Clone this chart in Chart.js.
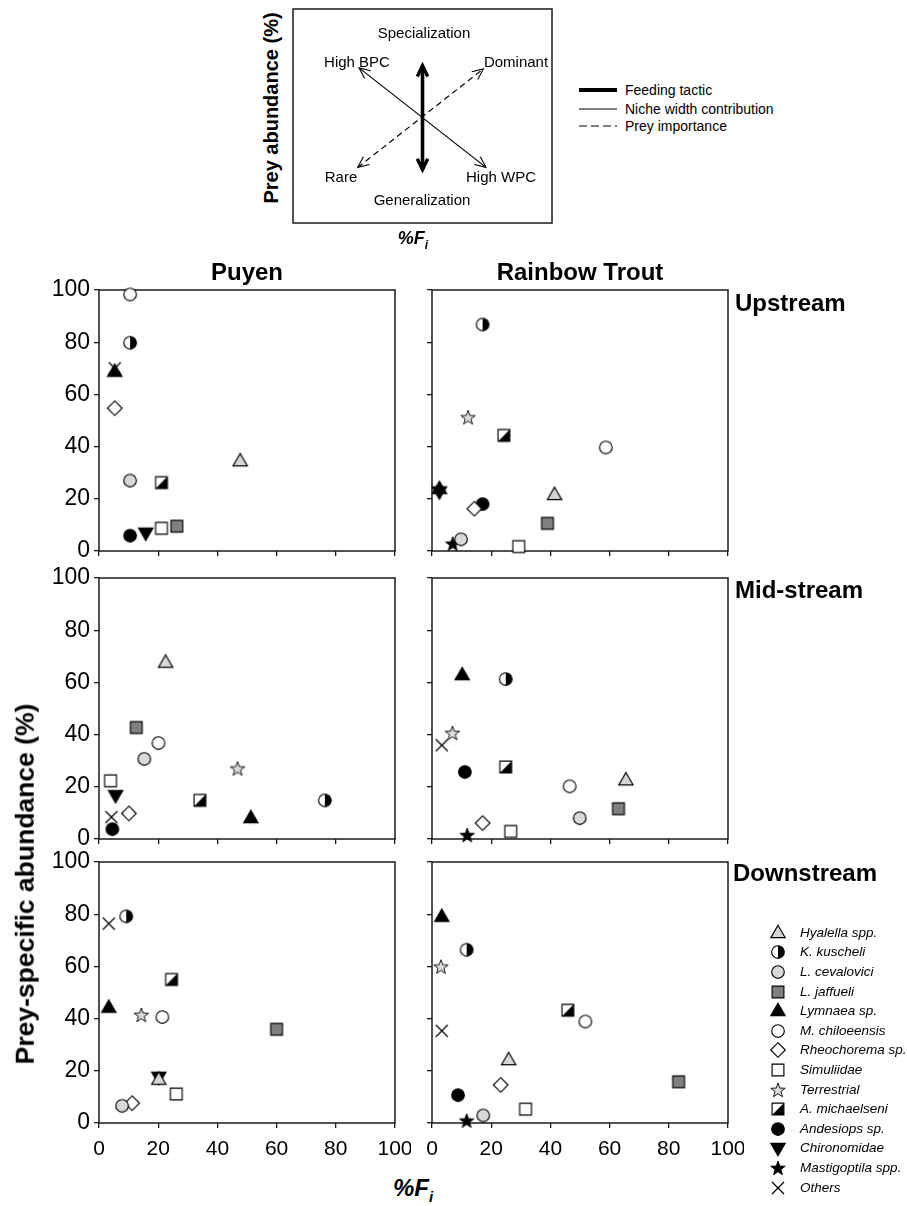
<!DOCTYPE html>
<html><head><meta charset="utf-8">
<script src="https://cdn.jsdelivr.net/npm/chart.js@4.4.1/dist/chart.umd.min.js"></script>
<style>
html,body{margin:0;padding:0;background:#fff;}
body{position:relative;width:907px;height:1206px;overflow:hidden;font-family:"Liberation Sans",Arial,sans-serif;color:#000;}
.t{position:absolute;white-space:nowrap;line-height:1;}
canvas.c{position:absolute;}
</style></head><body>
<script>
// ---------------- DATA ----------------
const taxa = ['Hyalella spp.','K. kuscheli','L. cevalovici','L. jaffueli','Lymnaea sp.','M. chiloeensis','Rheochorema sp.','Simuliidae','Terrestrial','A. michaelseni','Andesiops sp.','Chironomidae','Mastigoptila spp.','Others'];
const columns = ['Puyen','Rainbow Trout'];
const reaches = ['Upstream','Mid-stream','Downstream'];
const axisTicks = [0,20,40,60,80,100];

// %Fi (x) and prey-specific abundance (y), in taxa order (null = absent)
const fiPuyenUp    = [47.7,10.5,10.5,26.3, 5.3,10.5, 5.3,21.1,null,21.1,10.5,15.8,null, 5.3];
const psaPuyenUp   = [34.4,79.8,27.0, 9.5,68.7,98.3,54.7, 8.7,null,26.2, 5.9, 7.0,null,70.0];
const fiTroutUp    = [41.4,17.1, 9.8,39.0, 2.5,58.7,14.3,29.3,12.2,24.3,17.1, 2.5, 7.0,null];
const psaTroutUp   = [21.5,86.8, 4.5,10.6,23.8,39.7,16.2, 1.7,51.2,44.3,18.0,22.8, 2.8,null];
const fiPuyenMid   = [22.5,76.3,15.3,12.6,51.3,20.1,10.1, 3.9,46.8,34.1, 4.5, 5.6,null, 4.2];
const psaPuyenMid  = [67.6,14.8,30.7,42.7, 8.0,36.8, 9.8,22.3,27.0,14.8, 3.8,16.8,null, 8.4];
const fiTroutMid   = [65.5,24.9,49.9,63.0,10.2,46.5,17.1,26.6, 6.9,24.9,11.1,null,11.9, 3.3];
const psaTroutMid  = [22.5,61.3, 8.0,11.6,62.8,20.2, 6.1, 2.9,40.6,27.6,25.7,null, 1.5,35.9];
const fiPuyenDown  = [20.2, 9.2, 7.8,60.0, 3.3,21.4,11.2,26.1,14.3,24.5,null,20.2,null, 3.3];
const psaPuyenDown = [16.6,79.2, 6.6,35.9,44.2,40.6, 7.6,11.1,41.4,55.0,null,17.7,null,76.4];
const fiTroutDown  = [25.9,11.7,17.3,83.3, 3.3,51.8,23.2,31.6, 3.0,45.9, 8.8,null,11.7, 3.3];
const psaTroutDown = [24.1,66.4, 2.9,15.8,79.0,38.9,14.6, 5.3,59.9,43.2,10.7,null, 0.9,35.3];

// schematic (Amundsen diagram) lines, in 0-100 schematic units
const diagTactic = [{x:50,y:25},{x:50,y:73.5}];
const diagNiche  = [{x:25.5,y:72.5},{x:74.5,y:26}];
const diagPrey   = [{x:25,y:26},{x:73.5,y:72}];

// ---------------- GLYPHS ----------------
function glyph(fn){const s=22;const c=document.createElement('canvas');c.width=s;c.height=s;const g=c.getContext('2d');g.translate(s/2,s/2);g.lineWidth=1.15;g.strokeStyle='#000';g.lineJoin='miter';fn(g);return c;}
const tri=(fill,down)=>glyph(g=>{const d=down?-1:1;g.beginPath();g.moveTo(0,-7.8*d);g.lineTo(7.2,4.6*d);g.lineTo(-7.2,4.6*d);g.closePath();g.fillStyle=fill;g.fill();g.stroke();});
const R=6.3;
const circ=(fill)=>glyph(g=>{g.beginPath();g.arc(0,0,R,0,Math.PI*2);g.fillStyle=fill;g.fill();g.stroke();});
const halfCirc=()=>glyph(g=>{g.beginPath();g.arc(0,0,R,0,Math.PI*2);g.fillStyle='#fff';g.fill();g.beginPath();g.arc(0,0,R,-Math.PI/2,Math.PI/2);g.closePath();g.fillStyle='#000';g.fill();g.beginPath();g.arc(0,0,R,0,Math.PI*2);g.stroke();});
const S=5.9;
const sq=(fill)=>glyph(g=>{g.beginPath();g.rect(-S,-S,2*S,2*S);g.fillStyle=fill;g.fill();g.stroke();});
const halfSq=()=>glyph(g=>{g.beginPath();g.rect(-S,-S,2*S,2*S);g.fillStyle='#fff';g.fill();g.beginPath();g.moveTo(S,-S);g.lineTo(S,S);g.lineTo(-S,S);g.closePath();g.fillStyle='#000';g.fill();g.beginPath();g.rect(-S,-S,2*S,2*S);g.stroke();});
const diamond=()=>glyph(g=>{g.beginPath();g.moveTo(0,-7.3);g.lineTo(7.3,0);g.lineTo(0,7.3);g.lineTo(-7.3,0);g.closePath();g.fillStyle='#fff';g.fill();g.stroke();});
const star=(fill)=>glyph(g=>{g.beginPath();for(let k=0;k<10;k++){const r=k%2?3.1:7.6;const a=-Math.PI/2+k*Math.PI/5;const px=r*Math.cos(a),py=r*Math.sin(a)+0.6;k?g.lineTo(px,py):g.moveTo(px,py);}g.closePath();g.fillStyle=fill;g.fill();g.lineWidth=0.9;g.stroke();});
const cross=()=>glyph(g=>{g.lineWidth=1.3;g.beginPath();g.moveTo(-6,-6);g.lineTo(6,6);g.moveTo(6,-6);g.lineTo(-6,6);g.stroke();});

const glyphs=[tri('#d6d6d6',false),halfCirc(),circ('#d9d9d9'),sq('#808080'),tri('#000',false),circ('#fff'),diamond(),sq('#fff'),star('#dcdcdc'),halfSq(),circ('#000'),tri('#000',true),star('#000'),cross()];

// ---------------- HELPERS ----------------
function text(html,x,y,css,anchor){const d=document.createElement('div');d.className='t';d.innerHTML=html;d.style.cssText+=css;d.style.left=x+'px';d.style.top=y+'px';d.style.transform=anchor||'translate(-50%,-50%)';document.body.appendChild(d);return d;}

const boxPlugin={id:'box',beforeDatasetsDraw(ch){const {ctx,chartArea:a}=ch;ctx.save();ctx.strokeStyle='#1a1a1a';ctx.lineWidth=1.5;ctx.strokeRect(a.left,a.top,a.right-a.left,a.bottom-a.top);ctx.restore();}};

Chart.defaults.font.family='"Liberation Sans", Arial, sans-serif';
Chart.defaults.color='#000';

function panel(x0,y0,xs,ys,showY,showX){
  const PADL=64,PADT=16,PADR=16,PADB=44,W=296,H=261;
  const cv=document.createElement('canvas');cv.className='c';
  cv.width=W+PADL+PADR;cv.height=H+PADT+PADB;
  cv.style.left=(x0-PADL)+'px';cv.style.top=(y0-PADT)+'px';
  cv.style.width=cv.width+'px';cv.style.height=cv.height+'px';
  document.body.appendChild(cv);
  const datasets=taxa.map((name,i)=>({label:name,data:xs[i]==null?[]:[{x:xs[i],y:ys[i]}],pointStyle:glyphs[i],pointRadius:6,clip:false}));
  const grid={display:true,drawOnChartArea:false,drawTicks:true,tickLength:5,color:'#1a1a1a',lineWidth:1.3};
  new Chart(cv,{type:'scatter',data:{datasets},plugins:[boxPlugin],options:{
    responsive:false,animation:false,events:[],devicePixelRatio:1,
    layout:{padding:{top:PADT,right:PADR,left:0,bottom:0}},
    plugins:{legend:{display:false},tooltip:{enabled:false}},
    scales:{
      x:{type:'linear',min:0,max:100,afterFit:s=>{s.height=PADB;s.paddingLeft=0;s.paddingRight=0;},
         afterBuildTicks:s=>{s.ticks=axisTicks.map(v=>({value:v}));},
         ticks:{display:showX,font:{size:21},color:'#000',padding:9,maxRotation:0},grid,border:{display:false}},
      y:{type:'linear',min:0,max:100,afterFit:s=>{s.width=PADL;s.paddingTop=0;s.paddingBottom=0;},
         afterBuildTicks:s=>{s.ticks=axisTicks.map(v=>({value:v}));},
         ticks:{display:showY,font:{size:23},color:'#000',padding:4},grid,border:{display:false}}
    }}});
}

// ---------------- PANELS ----------------
const colX=[99,432], rowY=[290,578,862];
panel(colX[0],rowY[0],fiPuyenUp,psaPuyenUp,true,false);
panel(colX[1],rowY[0],fiTroutUp,psaTroutUp,false,false);
panel(colX[0],rowY[1],fiPuyenMid,psaPuyenMid,true,false);
panel(colX[1],rowY[1],fiTroutMid,psaTroutMid,false,false);
panel(colX[0],rowY[2],fiPuyenDown,psaPuyenDown,true,true);
panel(colX[1],rowY[2],fiTroutDown,psaTroutDown,false,true);

// titles
const bold24='font-weight:bold;font-size:24px;';
text(columns[0],247,272,bold24);
text(columns[1],580,272,bold24);
text(reaches[0],735,303,bold24,'translate(0,-50%)');
text(reaches[1],735,590,bold24,'translate(0,-50%)');
text(reaches[2],733,873,bold24,'translate(0,-50%)');
text('Prey-specific abundance (%)',25,884,'font-weight:bold;font-size:26.5px;','translate(-50%,-50%) rotate(-90deg)');
text('<i>%F<sub style="font-size:15px;vertical-align:-6px">i</sub></i>',413,1190,bold24);

// legend
taxa.forEach((name,i)=>{const y=932.7+i*19.6;const g=glyphs[i];const c=document.createElement('canvas');c.width=22;c.height=22;c.getContext('2d').drawImage(g,0,0);c.style.cssText='position:absolute;left:'+(778-11)+'px;top:'+(y-11)+'px;';document.body.appendChild(c);text(name,800,y,'font-style:italic;font-size:13.5px;','translate(0,-50%)');});

// ---------------- SCHEMATIC ----------------
(function(){
  const cv=document.createElement('canvas');cv.className='c';cv.width=261;cv.height=216;
  cv.style.left='292px';cv.style.top='8px';cv.style.width='261px';cv.style.height='216px';
  document.body.appendChild(cv);
  const arrowPlugin={id:'arrows',afterDatasetsDraw(ch){
    const ctx=ch.ctx;
    ch.data.datasets.forEach((ds,i)=>{
      const pts=ch.getDatasetMeta(i).data;const a=pts[0],b=pts[1];
      const L=ds.headLen,ang=ds.headAng;
      [[a,b],[b,a]].forEach(([from,to])=>{
        const th=Math.atan2(to.y-from.y,to.x-from.x);
        ctx.save();ctx.strokeStyle='#000';ctx.lineWidth=ds.headW;ctx.setLineDash([]);ctx.lineJoin='miter';ctx.lineCap='butt';
        ctx.beginPath();
        ctx.moveTo(to.x-L*Math.cos(th-ang),to.y-L*Math.sin(th-ang));
        ctx.lineTo(to.x,to.y);
        ctx.lineTo(to.x-L*Math.cos(th+ang),to.y-L*Math.sin(th+ang));
        ctx.stroke();ctx.restore();
      });
    });
  }};
  new Chart(cv,{type:'scatter',plugins:[boxPlugin,arrowPlugin],data:{datasets:[
    {data:diagNiche,showLine:true,borderColor:'#000',borderWidth:1.2,pointRadius:0,headLen:12,headAng:0.42,headW:1.1},
    {data:diagPrey,showLine:true,borderColor:'#000',borderWidth:1.2,borderDash:[6,4],pointRadius:0,headLen:12,headAng:0.42,headW:1.1},
    {data:diagTactic,showLine:true,borderColor:'#000',borderWidth:3.6,pointRadius:0,headLen:12,headAng:0.45,headW:3.4}
  ]},options:{responsive:false,animation:false,events:[],devicePixelRatio:1,
    layout:{padding:1},plugins:{legend:{display:false},tooltip:{enabled:false}},
    scales:{x:{type:'linear',min:0,max:100,display:false},y:{type:'linear',min:0,max:100,display:false}}}});
  const r15='font-size:15px;';
  text('Specialization',424,32,r15);
  text('High BPC',357,61,r15);
  text('Dominant',516,61,r15);
  text('Rare',341,176,r15);
  text('High WPC',501,176,r15);
  text('Generalization',422,199,r15);
  text('Prey abundance (%)',271,108,'font-weight:bold;font-size:20px;','translate(-50%,-50%) rotate(-90deg)');
  text('<i>%F<sub style="font-size:12px;vertical-align:-5px">i</sub></i>',413,240,'font-weight:bold;font-size:18px;');
  // legend of schematic
  const svg='<svg width="40" height="60" style="position:absolute;left:579px;top:80px" xmlns="http://www.w3.org/2000/svg">'+
    '<line x1="0" y1="10" x2="38" y2="10" stroke="#000" stroke-width="4"/>'+
    '<line x1="0" y1="29" x2="38" y2="29" stroke="#000" stroke-width="1.2"/>'+
    '<line x1="0" y1="46" x2="38" y2="46" stroke="#000" stroke-width="1.2" stroke-dasharray="8,4"/></svg>';
  document.body.insertAdjacentHTML('beforeend',svg);
  text('Feeding tactic',625,90,'font-size:14px;','translate(0,-50%)');
  text('Niche width contribution',625,109,'font-size:14px;','translate(0,-50%)');
  text('Prey importance',625,126,'font-size:14px;','translate(0,-50%)');
})();
</script>
</body></html>
